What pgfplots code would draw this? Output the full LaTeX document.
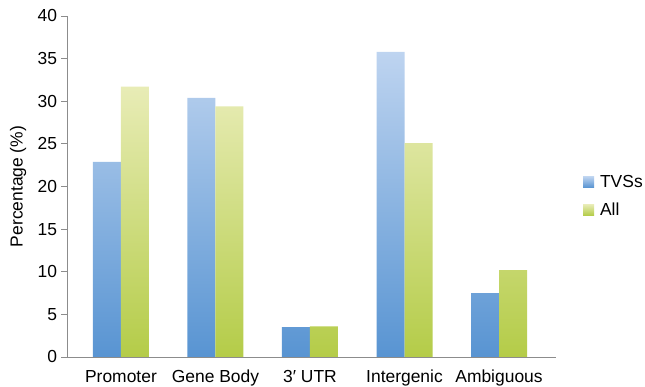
\documentclass[border=0pt]{standalone}
\usepackage{fontspec}
\setmainfont{Liberation Sans}
\usepackage{pgfplots}
\pgfplotsset{compat=1.18}

\definecolor{tvsBot}{RGB}{88,148,210}
\definecolor{tvsTop}{RGB}{190,212,240}
\definecolor{allBot}{RGB}{180,204,72}
\definecolor{allTop}{RGB}{232,236,182}
\definecolor{axisgray}{RGB}{140,140,140}

\newcommand{\lblfont}{\fontsize{17.5}{20}\selectfont}

\begin{document}
\begin{tikzpicture}
\begin{axis}[
  scale only axis,
  width=489bp, height=341bp,
  ybar=0pt, bar width=28bp,
  xmin=-0.571, xmax=4.603,
  ymin=0, ymax=40,
  xtick={0,1,2,3,4},
  xticklabels={Promoter, Gene Body, 3′ UTR, Intergenic, Ambiguous},
  ytick={0,5,...,40},
  axis x line*=bottom, axis y line*=left,
  axis line style={axisgray, line width=0.8pt},
  xtick style={draw=none},
  ytick style={axisgray, line width=0.8pt},
  tick align=outside,
  major tick length=5.5bp,
  /pgf/number format/assume math mode=true,
  tick label style={font=\lblfont, black},
  yticklabel style={xshift=-1bp},
  xticklabel style={yshift=-4bp},
  ylabel={Percentage (\%)},
  every axis y label/.style={at={(axis description cs:-0.1,0.5)}, anchor=center, rotate=90, font=\lblfont},
  legend style={at={(1.055,0.472)}, anchor=west, draw=none, fill=none,
    inner sep=0pt, row sep=14bp, font=\lblfont,
    nodes={inner xsep=3bp, inner ysep=0pt}},
  legend cell align=left,
]
% each bar is shaded from a deeper tone at the base to a pale tone at the top
\addplot[draw=none, bottom color=tvsBot, top color=tvsTop,
  legend image code/.code={\path[draw=none, bottom color=tvsBot, top color=tvsTop] (0bp,-5.5bp) rectangle (11bp,5.5bp);}]
  coordinates {(0,22.9) (1,30.4) (2,3.5) (3,35.8) (4,7.5)};
\addplot[draw=none, bottom color=allBot, top color=allTop,
  legend image code/.code={\path[draw=none, bottom color=allBot, top color=allTop] (0bp,-5.5bp) rectangle (11bp,5.5bp);}]
  coordinates {(0,31.7) (1,29.4) (2,3.6) (3,25.1) (4,10.2)};
\legend{\hspace{3bp}TVSs, \hspace{3bp}All}
\end{axis}
\pgfresetboundingbox
\path ([shift={(-67bp,-30bp)}]current axis.south west) rectangle ([shift={(89bp,16bp)}]current axis.north east);
\end{tikzpicture}
\end{document}
